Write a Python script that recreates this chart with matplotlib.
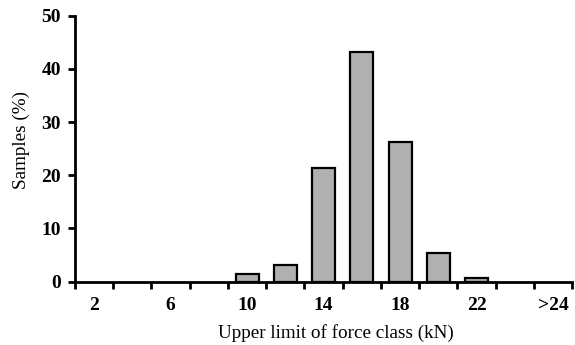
import numpy as np
import matplotlib
matplotlib.use("Agg")
from matplotlib import pyplot as plt

# force classes (upper limit, kN) and share of samples (%)
classes = ["2", "4", "6", "8", "10", "12", "14", "16", "18", "20", "22", "24", ">24"]
samples = [0, 0, 0, 0, 1.4, 3.1, 21.3, 43.2, 26.3, 5.3, 0.75, 0, 0]
shown_labels = ["2", "6", "10", "14", "18", "22", ">24"]

plt.rcParams['font.family'] = ['Liberation Serif', 'DejaVu Serif']

fig = plt.figure(figsize=(5.75, 3.45), dpi=100)
ax = fig.add_axes([0.1304, 0.1835, 0.8646, 0.771])

x = np.arange(len(classes))
vals = np.array(samples)
nz = vals > 0  # empty classes draw nothing
ax.bar(x[nz], vals[nz], width=0.6, color="#b0b0b0", edgecolor="black", linewidth=1.6, zorder=3)

ax.set_xlim(-0.5, len(classes) - 0.5)
ax.set_ylim(0, 50)
ax.set_yticks([0, 10, 20, 30, 40, 50])

# ticks sit on class boundaries, labels on every other class
ax.set_xticks(np.arange(-0.5, len(classes) + 0.5, 1.0))
ax.set_xticklabels([])
ax.set_xticks([x[classes.index(c)] for c in shown_labels], minor=True)
ax.set_xticklabels(shown_labels, minor=True)
ax.tick_params(axis="x", which="minor", length=0, pad=11, labelsize=14)
ax.tick_params(axis="x", which="major", direction="out", length=5, width=2)
ax.tick_params(axis="y", direction="out", length=5, width=2, labelsize=14, pad=5)
for lab in ax.get_xticklabels(minor=True) + ax.get_yticklabels():
    lab.set_fontweight("bold")

for s in ["top", "right"]:
    ax.spines[s].set_visible(False)
ax.spines["left"].set_linewidth(2)
ax.spines["bottom"].set_linewidth(2)

ax.set_xlabel("Upper limit of force class (kN)", fontsize=13.8)
ax.set_ylabel("Samples (%)", fontsize=13.8)
ax.xaxis.set_label_coords(0.525, -0.16)
ax.yaxis.set_label_coords(-0.091, 0.534)

fig.savefig("out.png", dpi=100)
